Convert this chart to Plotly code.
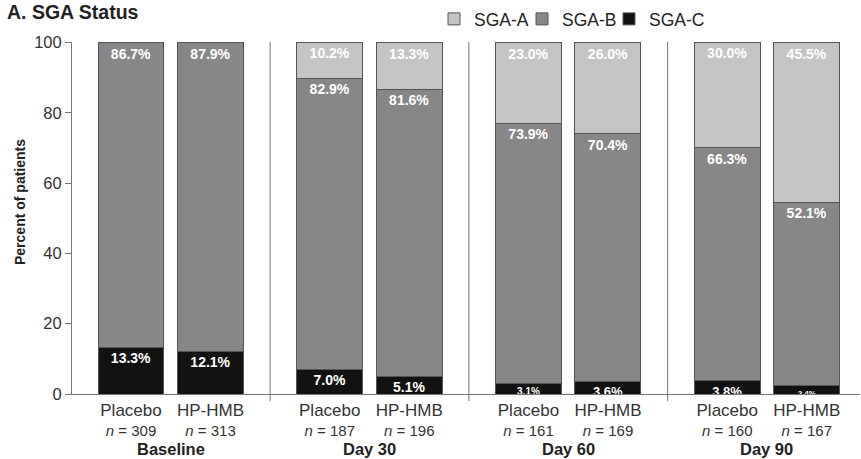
import plotly.graph_objects as go

groups = ["Baseline", "Day 30", "Day 60", "Day 90"]
arms = ["Placebo", "HP-HMB"]
n_values = [309, 313, 187, 196, 161, 169, 160, 167]
sga_c = [13.3, 12.1, 7.0, 5.1, 3.1, 3.6, 3.8, 2.4]
sga_b = [86.7, 87.9, 82.9, 81.6, 73.9, 70.4, 66.3, 52.1]
sga_a = [0, 0, 10.2, 13.3, 23.0, 26.0, 30.0, 45.5]
tick_y = [0, 20, 40, 60, 80, 100]

# positions: bars within a group 1 apart, groups 2.5 apart
xpos = []
for g in range(len(groups)):
    for a in range(len(arms)):
        xpos.append(g * 2.5 + a)
group_centers = [g * 2.5 + 0.5 for g in range(len(groups))]
separators = [g * 2.5 + 1.75 for g in range(len(groups) - 1)]

FONT = "Liberation Sans, Arial, sans-serif"

def labels(vals):
    return [f"{v:.1f}%" if v > 0 else "" for v in vals]

def sizes(vals):
    out = []
    for v in vals:
        if v < 2.8:
            out.append(8)
        elif v < 3.3:
            out.append(10)
        elif v < 4.0:
            out.append(13)
        else:
            out.append(14)
    return out

fig = go.Figure()
series = [("SGA-C", sga_c, "#121212", "legend3"),
          ("SGA-B", sga_b, "#878787", "legend2"),
          ("SGA-A", sga_a, "#c4c4c4", "legend")]
for name, vals, color, leg in series:
    fig.add_trace(go.Bar(
        x=xpos, y=vals, name=name, width=0.83,
        marker=dict(color=color, line=dict(color="#555555", width=1)),
        text=labels(vals), textposition="inside", insidetextanchor="end",
        constraintext="none", cliponaxis=False,
        textfont=dict(color="white", family=FONT, size=sizes(vals), weight="bold"),
        legend=leg, hoverinfo="skip",
    ))

ticktext = [f"<span style='font-size:17px'>{arms[i % 2]}</span><br><i>n</i> = {n_values[i]}"
            for i in range(len(xpos))]

def legend_at(px):
    return dict(orientation="h", x=(px - 72) / 788, y=(394 - 19) / 352, xanchor="left",
                yanchor="middle", font=dict(size=17.5, color="#222222"), bgcolor="rgba(0,0,0,0)")

fig.update_layout(
    barmode="stack",
    width=861, height=459,
    margin=dict(l=72, r=1, t=42, b=65),
    plot_bgcolor="white", paper_bgcolor="white",
    font=dict(family=FONT, color="#333333"),
    showlegend=True,
    legend=legend_at(434),
    legend2=legend_at(522),
    legend3=legend_at(609),
    xaxis=dict(range=[-0.742, 9.17], tickvals=xpos, ticktext=ticktext,
               showline=True, linecolor="#777777", linewidth=1,
               ticks="", tickfont=dict(size=15, color="#333333"), ticklabelstandoff=3,
               showgrid=False, zeroline=False, fixedrange=True),
    yaxis=dict(range=[0, 100.15], tickvals=tick_y, showline=True, linecolor="#777777",
               linewidth=1, ticks="outside", ticklen=6, tickcolor="#777777",
               tickfont=dict(size=16.5, color="#333333"), showgrid=False, zeroline=False,
               fixedrange=True),
)

for s in separators:
    fig.add_shape(type="line", xref="x", yref="paper", x0=s, x1=s, y0=-0.02, y1=1.0,
                  line=dict(color="#777777", width=1))

for gc, g in zip(group_centers, groups):
    fig.add_annotation(x=gc, y=-(449 - 394) / 352, xref="x", yref="paper", text=f"<b>{g}</b>",
                       showarrow=False, font=dict(size=16.5, color="#222222"), yanchor="middle")

# y-axis title
fig.add_annotation(x=-52 / 788, y=(394 - 202) / 352, xref="paper", yref="paper",
                   text="<b>Percent of patients</b>", textangle=-90, showarrow=False,
                   xanchor="center", yanchor="middle", font=dict(size=14, color="#222222"))

# panel title
fig.add_annotation(x=-67 / 788, y=(394 - 12) / 352, xref="paper", yref="paper",
                   text="<b>A. SGA Status</b>", showarrow=False, xanchor="left", yanchor="middle",
                   font=dict(size=19.5, color="#222222"))

fig.write_html("out.html", config={"displayModeBar": False},
               post_script="document.body.style.margin='0';")
